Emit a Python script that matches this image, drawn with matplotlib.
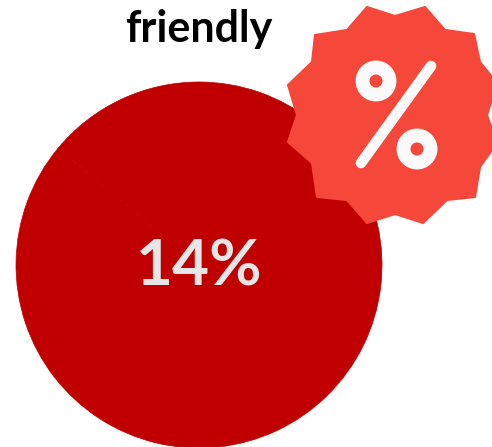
import matplotlib
matplotlib.use('Agg')
import matplotlib.pyplot as plt
from matplotlib.patches import Circle, Polygon

plt.rcParams['font.family'] = ['Lato', 'DejaVu Sans']

W, H = 492, 447

title = 'friendly'
share = [14, 86]
share_label = '14%'

# badge outline, in pixels
badge_x = [367, 395, 425, 445, 474, 480, 497, 487, 497, 480, 475, 447, 423, 395, 367, 347, 317, 312, 288, 297, 288, 312, 315, 347]
badge_y = [7, 16, 7, 30, 34, 62, 83, 115, 143, 167, 197, 200, 223, 214, 223, 200, 197, 163, 142, 115, 85, 62, 35, 30]
ring_centers = [(376, 81), (417, 149)]
slash_x = [431, 361]
slash_y = [66, 163]

RED = '#C00000'
BADGE = '#F5473A'
WHITE = '#FAFAFA'

fig = plt.figure(figsize=(W / 100, H / 100), dpi=100, facecolor='white')

# donut-less pie, both slices share one colour
ax_pie = fig.add_axes([16 / W, (H - 448) / H, 366 / W, 366 / H])
ax_pie.pie(share, colors=[RED, RED], radius=1, startangle=90,
           wedgeprops={'linewidth': 0.5, 'edgecolor': RED, 'clip_on': False})
ax_pie.set_xlim(-1, 1)
ax_pie.set_ylim(-1, 1)

# overlay in pixel coordinates
ax = fig.add_axes([0, 0, 1, 1], facecolor='none')
ax.set_xlim(0, W)
ax.set_ylim(H, 0)
ax.axis('off')

ax.text(199, 29, title, fontsize=31, fontweight='bold', color='black',
        ha='center', va='center')
ax.text(199, 267, share_label, fontsize=46, fontweight='bold', color='#E6E6E6',
        ha='center', va='center')

ax.add_patch(Polygon(list(zip(badge_x, badge_y)), closed=True, facecolor=BADGE,
                     edgecolor=BADGE, linewidth=1.5, joinstyle='round'))
for cx, cy in ring_centers:
    ax.add_patch(Circle((cx, cy), 13.5, facecolor='none', edgecolor=WHITE, linewidth=10))
ax.plot(slash_x, slash_y, color=WHITE, linewidth=7.7, solid_capstyle='round')

fig.savefig('out.png', dpi=100)
